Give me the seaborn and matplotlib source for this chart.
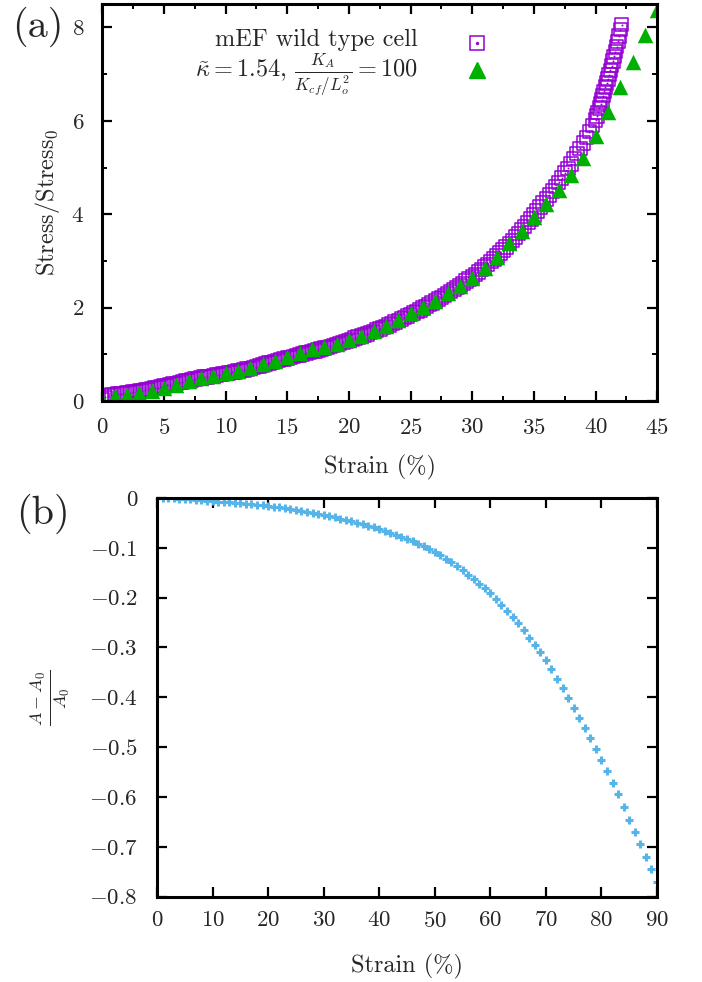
import numpy as np
import pandas as pd
import matplotlib
matplotlib.use("Agg")
import matplotlib.pyplot as plt
import seaborn as sns
from matplotlib.ticker import MultipleLocator

# ---------------- data ----------------
# (a) measured mEF wild type cell (open squares)
purple_strain = [
    0.0, 0.25, 0.5, 0.75, 1.0, 1.25, 1.5, 1.75, 2.0, 2.25, 2.5, 2.75,
    3.0, 3.25, 3.5, 3.75, 4.0, 4.25, 4.5, 4.75, 5.0, 5.25, 5.5, 5.75,
    6.0, 6.25, 6.5, 6.75, 7.0, 7.25, 7.5, 7.75, 8.0, 8.25, 8.5, 8.75,
    9.0, 9.25, 9.5, 9.75, 10.0, 10.25, 10.5, 10.75, 11.0, 11.25, 11.5, 11.75,
    12.0, 12.25, 12.5, 12.75, 13.0, 13.25, 13.5, 13.75, 14.0, 14.25, 14.5, 14.75,
    15.0, 15.25, 15.5, 15.75, 16.0, 16.25, 16.5, 16.75, 17.0, 17.25, 17.5, 17.75,
    18.0, 18.25, 18.5, 18.75, 19.0, 19.25, 19.5, 19.75, 20.0, 20.25, 20.5, 20.75,
    21.0, 21.25, 21.5, 21.75, 22.0, 22.25, 22.5, 22.75, 23.0, 23.25, 23.5, 23.75,
    24.0, 24.25, 24.5, 24.75, 25.0, 25.25, 25.5, 25.75, 26.0, 26.25, 26.5, 26.75,
    27.0, 27.25, 27.5, 27.75, 28.0, 28.25, 28.5, 28.75, 29.0, 29.25, 29.5, 29.75,
    30.0, 30.25, 30.5, 30.75, 31.0, 31.25, 31.5, 31.75, 32.0, 32.25, 32.5, 32.75,
    33.0, 33.25, 33.5, 33.75, 34.0, 34.25, 34.5, 34.75, 35.0, 35.25, 35.5, 35.75,
    36.0, 36.25, 36.5, 36.75, 37.0, 37.25, 37.5, 37.75, 38.0, 38.25, 38.5, 38.75,
    39.0, 39.25, 39.5, 39.75,
    40.0, 40.1, 40.2, 40.3, 40.4, 40.5, 40.6, 40.7, 40.8, 40.9, 41.0,
    41.1, 41.2, 41.3, 41.4, 41.5, 41.6, 41.7, 41.8, 41.9, 42.0, 42.1,
]
purple_stress = [
    0.03, 0.08, 0.11, 0.13, 0.14, 0.15, 0.155, 0.16, 0.17, 0.18, 0.19, 0.20,
    0.21, 0.22, 0.235, 0.25, 0.26, 0.275, 0.29, 0.305, 0.32, 0.335, 0.35, 0.365,
    0.38, 0.395, 0.41, 0.425, 0.44, 0.455, 0.47, 0.485, 0.50, 0.51, 0.52, 0.53,
    0.54, 0.552, 0.565, 0.577, 0.59, 0.602, 0.615, 0.627, 0.64, 0.655, 0.67, 0.685,
    0.70, 0.717, 0.735, 0.752, 0.77, 0.79, 0.81, 0.83, 0.85, 0.867, 0.885, 0.902,
    0.92, 0.937, 0.955, 0.972, 0.99, 1.007, 1.025, 1.042, 1.06, 1.077, 1.095, 1.112,
    1.13, 1.15, 1.17, 1.19, 1.21, 1.232, 1.255, 1.277, 1.30, 1.322, 1.345, 1.367,
    1.39, 1.415, 1.44, 1.465, 1.49, 1.517, 1.545, 1.572, 1.60, 1.63, 1.66, 1.69,
    1.72, 1.752, 1.785, 1.817, 1.85, 1.885, 1.92, 1.955, 1.99, 2.027, 2.065, 2.102,
    2.14, 2.18, 2.22, 2.26, 2.30, 2.342, 2.385, 2.427, 2.47, 2.517, 2.565, 2.612,
    2.66, 2.712, 2.765, 2.817, 2.87, 2.927, 2.985, 3.042, 3.10, 3.167, 3.235, 3.302,
    3.37, 3.442, 3.515, 3.587, 3.66, 3.74, 3.82, 3.90, 3.98, 4.065, 4.15, 4.235,
    4.32, 4.41, 4.50, 4.59, 4.68, 4.78, 4.88, 4.98, 5.08, 5.19, 5.30, 5.41,
    5.52, 5.645, 5.77, 5.895,
    6.02, 6.10, 6.18, 6.27, 6.36, 6.45, 6.54, 6.63, 6.72, 6.81, 6.90,
    6.99, 7.08, 7.18, 7.28, 7.38, 7.48, 7.59, 7.70, 7.82, 7.95, 8.06,
]

# (a) model, kappa = 1.54 (filled triangles)
green_strain = [0, 1, 2, 3, 4, 5, 6, 7, 8, 9, 10, 11, 12, 13, 14, 15, 16, 17, 18,
                19, 20, 21, 22, 23, 24, 25, 26, 27, 28, 29, 30, 31, 32, 33, 34, 35,
                36, 37, 38, 39, 40, 41, 42, 43, 44, 45]
green_stress = [0.0, 0.11, 0.14, 0.18, 0.22, 0.29, 0.34, 0.43, 0.49, 0.54, 0.59,
                0.65, 0.70, 0.79, 0.86, 0.95, 1.03, 1.11, 1.16, 1.22, 1.31, 1.40,
                1.50, 1.61, 1.73, 1.88, 2.01, 2.15, 2.31, 2.46, 2.64, 2.84, 3.09,
                3.38, 3.64, 3.93, 4.22, 4.52, 4.85, 5.21, 5.67, 6.19, 6.72, 7.26,
                7.84, 8.37]

# (b) relative area change (plus markers)
area_strain = [0, 1, 2, 3, 4, 5, 6, 7, 8, 9, 10, 11, 12, 13, 14, 15, 16, 17, 18, 19,
               20, 21, 22, 23, 24, 25, 26, 27, 28, 29, 30, 31, 32, 33, 34, 35, 36, 37,
               38, 39, 40, 41, 42, 43, 44, 45, 46, 47, 48, 49, 50, 51, 52, 53, 54, 55,
               56, 57, 58, 59, 60, 61, 62, 63, 64, 65, 66, 67, 68, 69, 70, 71, 72, 73,
               74, 75, 76, 77, 78, 79, 80, 81, 82, 83, 84, 85, 86, 87, 88, 89, 90]
area_change = [0.000, 0.000, -0.001, -0.001, -0.002, -0.002, -0.003, -0.004, -0.005, -0.006,
               -0.007, -0.008, -0.008, -0.009, -0.010, -0.011, -0.012, -0.013, -0.014, -0.015,
               -0.016, -0.018, -0.019, -0.021, -0.022, -0.024, -0.026, -0.028, -0.030, -0.032,
               -0.035, -0.037, -0.039, -0.042, -0.044, -0.047, -0.050, -0.053, -0.056, -0.059,
               -0.062, -0.066, -0.070, -0.074, -0.078, -0.082, -0.087, -0.092, -0.097, -0.103,
               -0.108, -0.115, -0.122, -0.129, -0.137, -0.145, -0.154, -0.163, -0.172, -0.181,
               -0.191, -0.202, -0.214, -0.226, -0.238, -0.251, -0.265, -0.280, -0.295, -0.310,
               -0.325, -0.344, -0.363, -0.382, -0.402, -0.421, -0.441, -0.461, -0.482, -0.503,
               -0.525, -0.548, -0.571, -0.595, -0.621, -0.647, -0.671, -0.695, -0.720, -0.745,
               -0.770]

xticks_a = [0, 5, 10, 15, 20, 25, 30, 35, 40, 45]
yticks_a = [0, 2, 4, 6, 8]
xticks_b = [0, 10, 20, 30, 40, 50, 60, 70, 80, 90]
yticks_b = [0, -0.1, -0.2, -0.3, -0.4, -0.5, -0.6, -0.7, -0.8]

PURPLE = "#9400d3"
GREEN = "#00b000"
BLUE = "#56b4e9"

# ---------------- style ----------------
sns.set_theme(style="ticks")
plt.rcParams.update({
    "font.family": ["cmr10"],
    "mathtext.fontset": "cm",
    "axes.formatter.use_mathtext": True,
    "axes.unicode_minus": True,
    "font.size": 16,
})

fig = plt.figure(figsize=(7.02, 9.82), dpi=100)
ax1 = fig.add_axes([0.1457, 0.5916, 0.7906, 0.4043])
ax2 = fig.add_axes([0.2236, 0.0869, 0.7123, 0.4060])

df_p = pd.DataFrame({"strain": purple_strain, "stress": purple_stress})
df_g = pd.DataFrame({"strain": green_strain, "stress": green_stress})
df_b = pd.DataFrame({"strain": area_strain, "area": area_change})

sns.scatterplot(data=df_p, x="strain", y="stress", ax=ax1, marker="s", s=95,
                color=PURPLE, facecolor="none", edgecolor=PURPLE, linewidth=1.1,
                zorder=2, legend=False)
sns.scatterplot(data=df_p, x="strain", y="stress", ax=ax1, marker="o", s=2,
                color=PURPLE, edgecolor=PURPLE, linewidth=0, zorder=2, legend=False)
sns.scatterplot(data=df_g, x="strain", y="stress", ax=ax1, marker="^", s=125,
                color=GREEN, edgecolor=GREEN, linewidth=0, zorder=3, legend=False)

sns.scatterplot(data=df_b, x="strain", y="area", ax=ax2, marker="+", s=36,
                color=BLUE, linewidth=2.2, zorder=3, legend=False)

# ---------------- axes ----------------
ax1.set_xlim(0, 45)
ax1.set_ylim(0, 8.5)
ax1.set_xticks(xticks_a)
ax1.set_yticks(yticks_a)
ax1.xaxis.set_minor_locator(MultipleLocator(2.5))
ax1.yaxis.set_minor_locator(MultipleLocator(1))

ax2.set_xlim(0, 90)
ax2.set_ylim(-0.8, 0)
ax2.set_xticks(xticks_b)
ax2.set_yticks(yticks_b)
ax2.set_yticklabels(["0" if v == 0 else r"$-%.1f$" % abs(v) for v in yticks_b])

for ax in (ax1, ax2):
    for sp in ax.spines.values():
        sp.set_visible(True)
        sp.set_linewidth(2.2)
        sp.set_color("black")
        sp.set_zorder(5)
    ax.tick_params(which="major", direction="in", top=True, right=True,
                   length=7, width=1.6, labelsize=16.5, color="black")
    ax.tick_params(which="minor", direction="in", top=True, right=True,
                   length=3.5, width=1.4, color="black")
    ax.set_facecolor("white")

ax1.tick_params(axis="x", which="major", pad=12)
ax1.tick_params(axis="y", which="major", pad=13)
ax2.tick_params(axis="x", which="major", pad=10)
ax2.tick_params(axis="y", which="major", pad=14)

ax1.set_xlabel("Strain (%)", fontsize=17.5, va="center")
ax1.set_ylabel(r"Stress/Stress$_0$", fontsize=17.5, va="center")
ax1.xaxis.set_label_coords(0.5, -0.166)
ax1.yaxis.set_label_coords(-0.099, 0.5)

ax2.set_xlabel("Strain (%)", fontsize=17.5, va="center")
ax2.set_ylabel(r"$\frac{A-A_0}{A_0}$", fontsize=18.5, rotation=90, va="center")
ax2.xaxis.set_label_coords(0.5, -0.175)
ax2.yaxis.set_label_coords(-0.214, 0.5)

# key of panel (a)
ax1.text(0.569, 0.895, "mEF wild type cell", transform=ax1.transAxes,
         ha="right", va="baseline", fontsize=17.5)
ax1.text(0.569, 0.814, r"$\tilde{\kappa}=1.54$, $\frac{K_A}{K_{cf}/L_o^2}=100$",
         transform=ax1.transAxes, ha="right", va="baseline", fontsize=17.5)
ax1.plot([0.675], [0.901], transform=ax1.transAxes, marker="s", ms=9.5,
         mfc="none", mec=PURPLE, mew=1.1, ls="none")
ax1.plot([0.675], [0.901], transform=ax1.transAxes, marker="o", ms=1.4,
         color=PURPLE, ls="none")
ax1.plot([0.675], [0.834], transform=ax1.transAxes, marker="^", ms=11,
         color=GREEN, mec=GREEN, ls="none")

fig.text(12 / 702, 1 - 27 / 982, "(a)", fontsize=29, ha="left", va="center")
fig.text(16 / 702, 1 - 514 / 982, "(b)", fontsize=29, ha="left", va="center")

fig.savefig("out.png", dpi=100, facecolor="white")
